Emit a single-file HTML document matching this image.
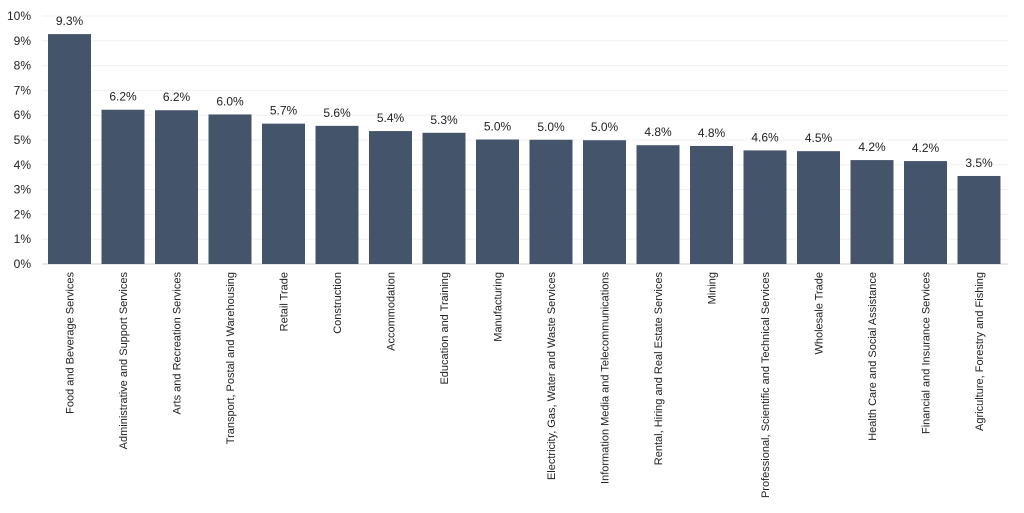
<!DOCTYPE html>
<html><head><meta charset="utf-8"><style>
html,body{margin:0;padding:0;background:#fff;}
svg{display:block;font-family:"Liberation Sans",Arial,sans-serif;}
</style></head><body>
<svg id="chart" width="1024" height="513"></svg>
<script>
const categories=["Food and Beverage Services","Administrative and Support Services","Arts and Recreation Services","Transport, Postal and Warehousing","Retail Trade","Construction","Accommodation","Education and Training","Manufacturing","Electricity, Gas, Water and Waste Services","Information Media and Telecommunications","Rental, Hiring and Real Estate Services","Mining","Professional, Scientific and Technical Services","Wholesale Trade","Health Care and Social Assistance","Financial and Insurance Services","Agriculture, Forestry and Fishing"];
const values=[9.27,6.22,6.2,6.03,5.66,5.57,5.36,5.29,5.02,5.01,4.99,4.79,4.76,4.58,4.55,4.19,4.15,3.55];
const yTicks=[0,1,2,3,4,5,6,7,8,9,10];
const NS="http://www.w3.org/2000/svg";
const svg=document.getElementById('chart');
const y0=264,y1=16,yMax=10,xStart=42.75,band=53.5,barW=43;
const y=v=>y0-(v/yMax)*(y0-y1);
const x=i=>xStart+band*i;
function mk(t,a){const e=document.createElementNS(NS,t);for(const k in a)e.setAttribute(k,a[k]);svg.appendChild(e);return e;}
yTicks.forEach(t=>{
  const g=mk('line',{x1:42,x2:1008,y1:y(t),y2:y(t),stroke:t===0?'#d0d0d0':'#f0f0f0','stroke-width':1});
  
  
  const l=mk('text',{x:31,y:y(t)+4,'text-anchor':'end','font-size':12,fill:'#222'});
  l.textContent=t+'%';
  
  
});
values.forEach((v,i)=>{
  const cx=x(i)+band/2;
  const r=mk('rect',{x:cx-barW/2,y:y(v),width:barW,height:y0-y(v),fill:'#44546a'});
  
  
  const t=mk('text',{x:cx,y:y(v)-9,'text-anchor':'middle','font-size':12,fill:'#222'});
  t.textContent=v.toFixed(1)+'%';
  
  
  const c=mk('text',{x:0,y:0,'text-anchor':'end','font-size':11,fill:'#222',transform:`translate(${cx+4},272) rotate(-90)`});
  c.textContent=categories[i];
  
  
});
</script>
</body></html>
